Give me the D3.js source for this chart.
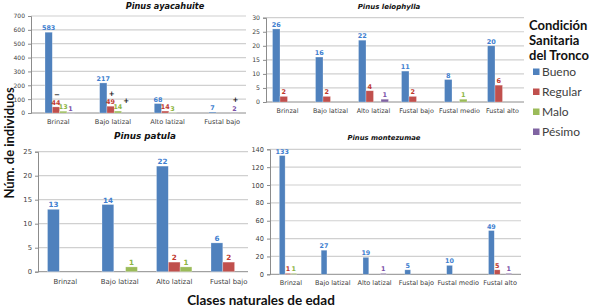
<!DOCTYPE html>
<html>
<head>
<meta charset="utf-8">
<script src="https://cdn.jsdelivr.net/npm/d3@7"></script>
<style>
  body { margin: 0; background: #fff; }
  svg { display: block; }
  .tick text { fill: #404040; }
</style>
</head>
<body>
<svg id="chart" width="589" height="308"></svg>
<script>
// data
const seriesNames = ["Bueno", "Regular", "Malo", "Pésimo"];
const seriesColors = ["#4F81BD", "#C0504D", "#9BBB59", "#8064A2"];
const labelColors = ["#3F7FD0", "#C0392F", "#8DB542", "#7A4FA8"];

const catsFour = ["Brinzal", "Bajo latizal", "Alto latizal", "Fustal bajo"];
const catsSix = ["Brinzal", "Bajo latizal", "Alto latizal", "Fustal bajo", "Fustal medio", "Fustal alto"];

// one row per series (Bueno, Regular, Malo, Pésimo)
const ayacahuite = [[583, 217, 68, 7], [44, 49, 14, 0], [13, 14, 3, 0], [1, 0, 0, 2]];
const leiophylla = [[26, 16, 22, 11, 8, 20], [2, 2, 4, 2, 0, 6], [0, 0, 0, 0, 1, 0], [0, 0, 1, 0, 0, 0]];
const patula = [[13, 14, 22, 6], [0, 0, 2, 2], [0, 1, 1, 0], [0, 0, 0, 0]];
const montezumae = [[133, 27, 19, 5, 10, 49], [1, 0, 0, 0, 0, 5], [1, 0, 0, 0, 0, 0], [0, 0, 1, 0, 0, 1]];

const ayacahuiteTicks = [0, 100, 200, 300, 400, 500, 600, 700];
const leiophyllaTicks = [0, 5, 10, 15, 20, 25, 30];
const patulaTicks = [0, 5, 10, 15, 20, 25];
const montezumaeTicks = [0, 20, 40, 60, 80, 100, 120, 140];

// significance marks drawn above some labels of P. ayacahuite
const ayacahuiteMarks = [
  { cat: "Brinzal", s: 1, sym: "−" },
  { cat: "Bajo latizal", s: 1, sym: "+" },
  { cat: "Bajo latizal", s: 3, sym: "+" },
  { cat: "Fustal bajo", s: 3, sym: "+" }
];

const svg = d3.select("#chart");

function drawPanel(cfg) {
  const g = svg.append("g");
  const x0 = d3.scaleBand().domain(cfg.cats).range(cfg.xRange);
  const bw = cfg.barW;
  const off = cfg.gOff != null ? cfg.gOff : (x0.bandwidth() - 4 * bw) / 2;
  const x1 = d3.scaleBand().domain(d3.range(4)).range([off, off + 4 * bw]);
  const y = d3.scaleLinear().domain([0, d3.max(cfg.ticks)]).range(cfg.yRange);
  const left = cfg.xRange[0];
  const right = cfg.gridRight || cfg.xRange[1];

  // gridlines
  g.selectAll(".grid")
    .data(cfg.ticks.slice(1))
    .enter()
    .append("line")
    .attr("x1", left).attr("x2", right)
    .attr("y1", d => y(d)).attr("y2", d => y(d))
    .attr("stroke", "#d0d0d0")
    .attr("stroke-width", 1.2);

  // Y axis
  const yAxis = g.append("g")
    .attr("transform", `translate(${left},0)`)
    .call(d3.axisLeft(y).tickValues(cfg.ticks).tickSize(3).tickPadding(3));
  yAxis.select(".domain").attr("stroke", "#8c8c8c");
  yAxis.selectAll(".tick line").attr("stroke", "#8c8c8c");
  yAxis.selectAll("text")
    .style("font-family", "DejaVu Sans")
    .style("font-size", cfg.tickSize + "px");

  // baseline
  g.append("line")
    .attr("x1", left).attr("x2", right)
    .attr("y1", y(0)).attr("y2", y(0))
    .attr("stroke", "#8c8c8c");

  // category labels
  const xAxis = g.append("g")
    .attr("transform", `translate(0,${y(0)})`)
    .call(d3.axisBottom(x0).tickSize(0).tickPadding(cfg.catPad));
  xAxis.select(".domain").remove();
  xAxis.selectAll("text")
    .style("font-family", "DejaVu Sans")
    .style("font-size", cfg.catSize + "px");

  // bars
  const rows = [];
  cfg.values.forEach((vals, s) => {
    vals.forEach((v, i) => rows.push({ cat: cfg.cats[i], s: s, v: v }));
  });

  g.selectAll(".bar")
    .data(rows.filter(d => d.v > 0))
    .enter()
    .append("rect")
    .attr("class", "bar")
    .attr("x", d => x0(d.cat) + x1(d.s))
    .attr("width", x1.bandwidth())
    .attr("y", d => y(d.v))
    .attr("height", d => y(0) - y(d.v))
    .attr("fill", d => seriesColors[d.s])
    .attr("stroke", "rgba(255,255,255,0.45)")
    .attr("stroke-width", 0.6);

  g.selectAll(".lbl")
    .data(rows.filter(d => d.v > 0))
    .enter()
    .append("text")
    .attr("x", d => x0(d.cat) + x1(d.s) + x1.bandwidth() / 2)
    .attr("y", d => y(d.v) - 2)
    .attr("text-anchor", "middle")
    .attr("font-family", "DejaVu Sans")
    .attr("font-weight", "bold")
    .attr("font-size", cfg.lblSize + "px")
    .attr("fill", d => labelColors[d.s])
    .text(d => d.v);

  if (cfg.marks) {
    g.selectAll(".mark")
      .data(cfg.marks)
      .enter()
      .append("text")
      .attr("x", d => x0(d.cat) + x1(d.s) + x1.bandwidth() / 2 + 1)
      .attr("y", d => y(cfg.values[d.s][cfg.cats.indexOf(d.cat)]) - 4 - cfg.lblSize)
      .attr("text-anchor", "middle")
      .attr("font-family", "DejaVu Sans")
      .attr("font-weight", "bold")
      .attr("font-size", "7px")
      .attr("fill", "#111")
      .text(d => d.sym);
  }

  // title
  svg.append("text")
    .attr("x", cfg.titleX)
    .attr("y", cfg.titleY)
    .attr("text-anchor", "middle")
    .attr("font-family", "DejaVu Sans")
    .attr("font-weight", "bold")
    .attr("font-style", "italic")
    .attr("font-size", cfg.titleSize + "px")
    .attr("fill", "#111")
    .text(cfg.title);
}

drawPanel({
  title: "Pinus ayacahuite", titleX: 165, titleY: 9, titleSize: 8.2,
  cats: catsFour, values: ayacahuite, ticks: ayacahuiteTicks, marks: ayacahuiteMarks,
  xRange: [31, 249.5], gridRight: 246, yRange: [113, 16],
  barW: 7.3, gOff: 14, tickSize: 6, catSize: 6.6, catPad: 6, lblSize: 6.4
});

drawPanel({
  title: "Pinus leiophylla", titleX: 389, titleY: 9, titleSize: 7,
  cats: catsSix, values: leiophylla, ticks: leiophyllaTicks,
  xRange: [266, 524], yRange: [102, 17.7],
  barW: 7.5, tickSize: 6.2, catSize: 6.4, catPad: 6, lblSize: 6.5
});

drawPanel({
  title: "Pinus patula", titleX: 145, titleY: 139, titleSize: 8.8,
  cats: catsFour, values: patula, ticks: patulaTicks,
  xRange: [38, 256], gridRight: 248, yRange: [271.7, 151.7],
  barW: 11.8, gOff: 9.5, tickSize: 6.8, catSize: 6.9, catPad: 7, lblSize: 7.2
});

drawPanel({
  title: "Pinus montezumae", titleX: 384, titleY: 140, titleSize: 6.8,
  cats: catsSix, values: montezumae, ticks: montezumaeTicks,
  xRange: [270, 521], yRange: [274.3, 149.3],
  barW: 5.8, tickSize: 6.6, catSize: 6.5, catPad: 6, lblSize: 6.4
});

// axis titles
svg.append("text")
  .attr("transform", "translate(14,143) rotate(-90)")
  .attr("text-anchor", "middle")
  .attr("font-family", "Lato")
  .attr("font-weight", "bold")
  .attr("font-size", "13px")
  .attr("fill", "#111")
  .text("Núm. de individuos");

svg.append("text")
  .attr("x", 261)
  .attr("y", 305)
  .attr("text-anchor", "middle")
  .attr("font-family", "Lato")
  .attr("font-weight", "bold")
  .attr("font-size", "13.5px")
  .attr("fill", "#111")
  .text("Clases naturales de edad");

// legend
const legend = svg.append("g").attr("transform", "translate(529,0)");
legend.selectAll(".lt")
  .data(["Condición", "Sanitaria", "del Tronco"])
  .enter()
  .append("text")
  .attr("x", 0)
  .attr("y", (d, i) => 30 + i * 15)
  .attr("font-family", "Lato")
  .attr("font-weight", "bold")
  .attr("font-size", "13px")
  .attr("fill", "#111")
  .text(d => d);

const items = legend.selectAll(".li")
  .data(seriesNames)
  .enter()
  .append("g")
  .attr("transform", (d, i) => `translate(4,${72 + i * 20})`);
items.append("rect")
  .attr("x", 0).attr("y", -3.5)
  .attr("width", 6.5).attr("height", 6.5)
  .attr("fill", (d, i) => seriesColors[i]);
items.append("text")
  .attr("x", 9)
  .attr("y", 4)
  .attr("font-family", "Lato")
  .attr("font-size", "12px")
  .attr("fill", "#404040")
  .text(d => d);
</script>
</body>
</html>
